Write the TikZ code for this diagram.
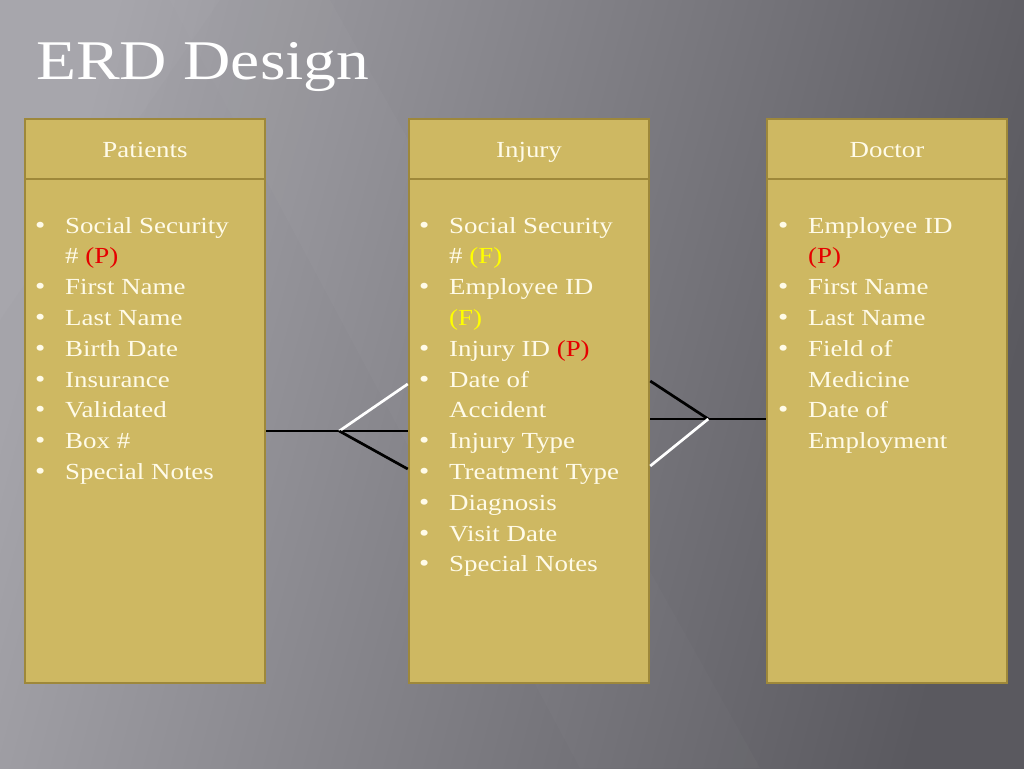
\documentclass[tikz,border=0pt]{standalone}
\usepackage{fontspec}
\setmainfont[FakeStretch=1.17]{Liberation Serif}
\usetikzlibrary{calc}
\definecolor{boxfill}{RGB}{206,184,98}
\definecolor{boxline}{RGB}{158,136,58}
\definecolor{txt}{RGB}{255,251,232}
\definecolor{pk}{RGB}{230,0,0}
\definecolor{fk}{RGB}{255,255,0}
\definecolor{bgL}{RGB}{165,164,170}
\definecolor{bgR}{RGB}{90,89,95}
\newcommand\itm[1]{\makebox[30pt][l]{\fontsize{25}{25}\selectfont\textbullet}#1\\}
\newcommand\cnt[1]{\hspace*{30pt}#1\\}
\begin{document}
\begin{tikzpicture}[x=1pt,y=-1pt,
  entbox/.style={draw=boxline, line width=2.5pt, fill=boxfill, inner sep=0pt},
  headtxt/.style={text=txt, anchor=base, inner sep=0pt, font=\fontsize{23}{26}\selectfont},
  listtxt/.style={text=txt, align=left, anchor=north west, inner sep=0pt, font=\fontsize{23}{30.8}\selectfont},
  conn/.style={line width=2.7pt, black},
  connw/.style={line width=2.7pt, white}]
\useasboundingbox (0,0) rectangle (1024,768);
\shade[left color=bgL, right color=bgR, shading angle=75] (0,0) rectangle (1024,768);
\fill[white, opacity=0.02] (170,0) -- (330,0) -- (760,768) -- (580,768) -- cycle;
\fill[white, opacity=0.025] (0,0) -- (220,0) -- (0,320) -- cycle;
\node[anchor=base west, inner sep=0pt, text=white, font=\fontsize{56}{60}\selectfont] (title) at (36,79) {ERD Design};
% Patients
\node[entbox, minimum width=240pt, minimum height=60pt] (phead) at (145,149) {};
\node[headtxt] (phtxt) at ($(phead.center)+(0,8)$) {Patients};
\node[entbox, minimum width=240pt, minimum height=504pt] (pbody) at (145,431) {};
\node[listtxt] (plist) at (35,217) {\itm{Social Security}\cnt{\# {\color{pk}(P)}}\itm{First Name}\itm{Last Name}\itm{Birth Date}\itm{Insurance}\itm{Validated}\itm{Box \#}\itm{Special Notes}};
% Injury
\node[entbox, minimum width=240pt, minimum height=60pt] (ihead) at (529,149) {};
\node[headtxt] (ihtxt) at ($(ihead.center)+(0,8)$) {Injury};
\node[entbox, minimum width=240pt, minimum height=504pt] (ibody) at (529,431) {};
\node[listtxt] (ilist) at (419,217) {\itm{Social Security}\cnt{\# {\color{fk}(F)}}\itm{Employee ID}\cnt{{\color{fk}(F)}}\itm{Injury ID {\color{pk}(P)}}\itm{Date of}\cnt{Accident}\itm{Injury Type}\itm{Treatment Type}\itm{Diagnosis}\itm{Visit Date}\itm{Special Notes}};
% Doctor
\node[entbox, minimum width=240pt, minimum height=60pt] (dhead) at (887,149) {};
\node[headtxt] (dhtxt) at ($(dhead.center)+(0,8)$) {Doctor};
\node[entbox, minimum width=240pt, minimum height=504pt] (dbody) at (887,431) {};
\node[listtxt] (dlist) at (778,217) {\itm{Employee ID}\cnt{{\color{pk}(P)}}\itm{First Name}\itm{Last Name}\itm{Field of}\cnt{Medicine}\itm{Date of}\cnt{Employment}};
% Patients -- Injury
\coordinate (v1) at ($(pbody.east)+(73,0)$);
\coordinate (w1) at ($(ibody.west)+(0,-47)$);
\coordinate (b1) at ($(ibody.west)+(0,38)$);
\draw[conn] (pbody.east) -- (ibody.west);
\draw[connw] (v1) -- (w1);
\draw[conn] (v1) -- (b1);
% Injury -- Doctor
\coordinate (v2) at ($(ibody.east)+(58,-12)$);
\coordinate (d2) at ($(dbody.west)+(0,-12)$);
\coordinate (i2) at ($(ibody.east)+(0,-12)$);
\coordinate (b2) at ($(ibody.east)+(0,-50)$);
\coordinate (w2) at ($(ibody.east)+(0,35)$);
\draw[conn] (i2) -- (d2);
\draw[conn] (b2) -- (v2);
\draw[connw] (v2) -- (w2);
\end{tikzpicture}
\end{document}
